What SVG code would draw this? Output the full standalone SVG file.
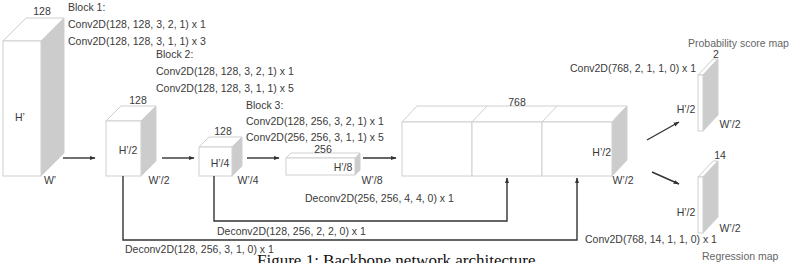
<svg xmlns="http://www.w3.org/2000/svg" width="789" height="263" viewBox="0 0 789 263">
<defs>
<style>
text{font-family:"Liberation Sans",Arial,sans-serif;font-size:10.5px;fill:#3a3a3a}
.m{text-anchor:middle}
.e{text-anchor:end}
.lt{fill:#666}
.cap{font-family:"Liberation Serif","Times New Roman",serif;font-size:17px;fill:#111}
.f{fill:#fff;stroke:#cfcfcf;stroke-width:1}
.s{fill:#cccccc;stroke:#cfcfcf;stroke-width:1}
.c{fill:none;stroke:#333;stroke-width:1.4}
</style>
<marker id="ah" viewBox="0 0 10 10" refX="9" refY="5" markerWidth="6" markerHeight="6" orient="auto" markerUnits="userSpaceOnUse">
<path d="M0,1.5 L10,5 L0,8.5 z" fill="#333"/>
</marker>
</defs>
<rect width="789" height="263" fill="#fff"/>

<g id="input">
<polygon class="f" points="3,41 41,41 64,18 26,18"/>
<polygon class="s" points="41,41 64,18 64,153 41,176"/>
<rect class="f" x="3" y="41" width="38" height="135"/>
<text class="m" x="42" y="15">128</text>
<text class="m" x="20" y="121">H’</text>
<text class="m" x="50" y="184">W’</text>
</g>

<g id="block1">
<polygon class="f" points="106,121 141,121 156,106 121,106"/>
<polygon class="s" points="141,121 156,106 156,161 141,176"/>
<rect class="f" x="106" y="121" width="35" height="55"/>
<text class="m" x="138" y="104">128</text>
<text class="m" x="128" y="154">H’/2</text>
<text class="m" x="159" y="184">W’/2</text>
<text x="68" y="11">Block 1:</text>
<text x="68" y="28">Conv2D(128, 128, 3, 2, 1) x 1</text>
<text x="68" y="45">Conv2D(128, 128, 3, 1, 1) x 3</text>
</g>

<g id="block2">
<polygon class="f" points="199,147 232,147 242,137 209,137"/>
<polygon class="s" points="232,147 242,137 242,166 232,176"/>
<rect class="f" x="199" y="147" width="33" height="29"/>
<text class="m" x="223" y="135">128</text>
<text class="m" x="220" y="167">H’/4</text>
<text class="m" x="248" y="184">W’/4</text>
<text x="156" y="58">Block 2:</text>
<text x="156" y="75">Conv2D(128, 128, 3, 2, 1) x 1</text>
<text x="156" y="92">Conv2D(128, 128, 3, 1, 1) x 5</text>
</g>

<g id="block3">
<polygon class="f" points="286,158 355,158 360,153 291,153"/>
<polygon class="s" points="355,158 360,153 360,170 355,175"/>
<rect class="f" x="286" y="158" width="69" height="17"/>
<text class="m" x="323" y="153">256</text>
<text class="m" x="343" y="171">H’/8</text>
<text class="m" x="372" y="184">W’/8</text>
<text x="246" y="109">Block 3:</text>
<text x="246" y="125">Conv2D(128, 256, 3, 2, 1) x 1</text>
<text x="246" y="141">Conv2D(256, 256, 3, 1, 1) x 5</text>
</g>

<g id="concat">
<polygon class="f" points="402,122 612,122 627,106 417,106"/>
<line class="f" x1="472" y1="122" x2="487" y2="106"/>
<line class="f" x1="542" y1="122" x2="557" y2="106"/>
<polygon class="s" points="612,122 627,106 627,160 612,176"/>
<rect class="f" x="402" y="122" width="70" height="54"/>
<rect class="f" x="472" y="122" width="70" height="54"/>
<rect class="f" x="542" y="122" width="70" height="54"/>
<text class="m" x="517" y="106">768</text>
<text class="e" x="611" y="156">H’/2</text>
<text class="m" x="623" y="184">W’/2</text>
</g>

<g id="prob">
<polygon class="f" points="698,75 703,75 718,59 713,59"/>
<polygon class="s" points="703,75 718,59 718,115 703,131"/>
<rect class="f" x="698" y="75" width="5" height="56"/>
<text class="lt" x="688" y="47">Probability score map</text>
<text class="m" x="716" y="58">2</text>
<text class="m" x="686" y="113">H’/2</text>
<text class="m" x="730" y="128">W’/2</text>
<text x="570" y="72">Conv2D(768, 2, 1, 1, 0) x 1</text>
</g>

<g id="reg">
<polygon class="f" points="698,177 703,177 718,161 713,161"/>
<polygon class="s" points="703,177 718,161 718,217 703,233"/>
<rect class="f" x="698" y="177" width="5" height="56"/>
<text class="m" x="720" y="159">14</text>
<text class="m" x="686" y="216">H’/2</text>
<text class="m" x="730" y="232">W’/2</text>
<text x="585" y="243">Conv2D(768, 14, 1, 1, 0) x 1</text>
<text class="lt" x="702" y="260">Regression map</text>
</g>

<g id="connectors">
<line class="c" x1="63" y1="158" x2="95" y2="158" marker-end="url(#ah)"/>
<line class="c" x1="162" y1="158" x2="194" y2="158" marker-end="url(#ah)"/>
<line class="c" x1="247" y1="158" x2="279" y2="158" marker-end="url(#ah)"/>
<line class="c" x1="363" y1="158" x2="396" y2="158" marker-end="url(#ah)"/>
<polyline class="c" points="214,176 214,221 507,221 507,178" marker-end="url(#ah)"/>
<polyline class="c" points="123,176 123,240 577,240 577,178" marker-end="url(#ah)"/>
<line class="c" x1="647" y1="140" x2="679" y2="122" marker-end="url(#ah)"/>
<line class="c" x1="652" y1="172" x2="679" y2="184" marker-end="url(#ah)"/>
<text x="305" y="202">Deconv2D(256, 256, 4, 4, 0) x 1</text>
<text x="217" y="235">Deconv2D(128, 256, 2, 2, 0) x 1</text>
<text x="125" y="253">Deconv2D(128, 256, 3, 1, 0) x 1</text>
</g>

<text class="cap" x="257" y="266">Figure 1: Backbone network architecture</text>
</svg>
